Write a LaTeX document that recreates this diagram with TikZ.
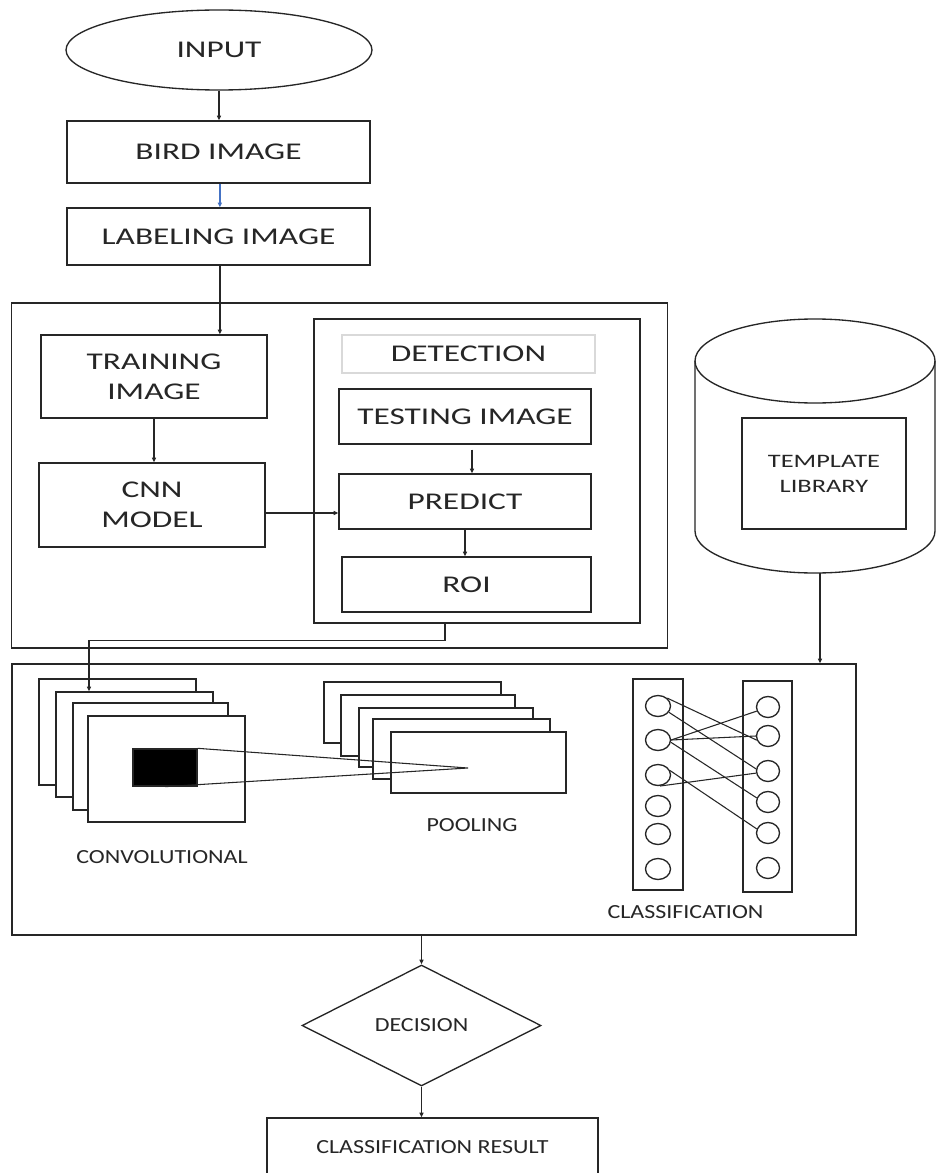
\documentclass[tikz,border=0pt]{standalone}
\usepackage{fontspec}
\setmainfont{Carlito}
\newfontfamily\mainf[FakeStretch=1.39]{Carlito}
\newfontfamily\smallf[FakeStretch=1.2]{Carlito}
\usetikzlibrary{shapes.geometric,arrows.meta}
\definecolor{ink}{HTML}{262626}
\definecolor{arrblue}{HTML}{4472C4}
\begin{document}
\begin{tikzpicture}[x=0.75pt,y=0.75pt,
  color=ink, line width=1pt,
  wh/.style 2 args={minimum width=#1*0.75pt, minimum height=#2*0.75pt},
  box/.style={draw, rectangle, inner sep=0pt, align=center,
    font=\mainf\fontsize{18}{22.5}\selectfont},
  smalltxt/.style={font=\smallf\fontsize{15}{18}\selectfont},
  lbl/.style={inner sep=0pt, smalltxt},
  sheet/.style={draw, rectangle, fill=white, inner sep=0pt},
  neuron/.style={draw, ellipse, inner sep=0pt},
  arr/.style={-{Triangle[length=3.5pt,width=3pt]}},
  thin line/.style={line width=0.8pt}
]
\useasboundingbox (0,0) rectangle (936,-1173);
\fill[white] (0,0) rectangle (936,-1173);
\clip (0,0) rectangle (936,-1173);

% top flow
\node[box, ellipse, wh={306}{80}] (in) at (219,-50) {INPUT};
\node[box, wh={303}{62}] (bird) at (218.5,-152) {BIRD IMAGE};
\node[box, wh={303}{57}] (lab) at (218.5,-236.5) {LABELING IMAGE};

% group 1
\node[box, wh={656}{345}] (grp1) at (339.5,-475.5) {};
\node[box, wh={226}{83}] (train) at (154,-376.5) {TRAINING\\IMAGE};
\node[box, wh={226}{84}] (cnn) at (152,-505) {CNN\\MODEL};
\node[box, wh={326}{304}] (det) at (477,-471) {};
\node[box, draw=black!15, wh={253}{38}] (dett) at (468.5,-354) {DETECTION};
\node[box, wh={252}{55}] (test) at (465,-416.5) {TESTING IMAGE};
\node[box, wh={252}{55}] (pred) at (465,-501.5) {PREDICT};
\node[box, wh={249}{55}] (roi) at (466.5,-584.5) {ROI};

% template library cylinder
\draw (695,-361) -- (695,-531) arc[start angle=180,end angle=360,x radius=90pt,y radius=31.5pt] -- (935,-361);
\draw (815,-361) ellipse[x radius=90pt, y radius=31.5pt];
\node[box, wh={164}{111}, font=\mainf\fontsize{14.25}{18.75}\selectfont] (tpl) at (824,-473.5) {TEMPLATE\\LIBRARY};
\coordinate (cylb) at (820,-573);

% group 2
\node[box, wh={844}{271}] (grp2) at (434,-799.5) {};

% convolutional sheets
\node[sheet, wh={157}{106}] (c1) at (117.5,-732) {};
\node[sheet, wh={157}{105}] (c2) at (134.5,-744.5) {};
\node[sheet, wh={155}{107}] (c3) at (150.5,-756.5) {};
\node[sheet, wh={157}{106}] (c4) at (166.5,-769) {};
\node[draw, fill=black, inner sep=0pt, wh={64}{37}] (kern) at (165,-767.5) {};

% pooling sheets
\node[sheet, wh={177}{61}] (p1) at (412.5,-712.5) {};
\node[sheet, wh={174}{61}] (p2) at (428,-725.5) {};
\node[sheet, wh={174}{59}] (p3) at (446,-737.5) {};
\node[sheet, wh={177}{60}] (p4) at (461.5,-749) {};
\node[sheet, wh={175}{61}] (p5) at (478.5,-762.5) {};
\coordinate (apex) at (468,-768);
\draw[thin line] (kern.north east) -- (apex) -- (kern.south);

\node[lbl] (convl) at (162,-857) {CONVOLUTIONAL};
\node[lbl] (pooll) at (472,-825) {POOLING};

% classification network
\node[sheet, wh={50}{211}] (colL) at (658,-784.5) {};
\node[sheet, wh={49}{211}] (colR) at (767.5,-786.5) {};
\foreach \i/\y in {1/706,2/740,3/775,4/806,5/834,6/869}
  \node[neuron, wh={25}{21}] (l\i) at (658,-\y) {};
\foreach \i/\y in {1/707,2/736,3/771,4/802,5/833,6/868}
  \node[neuron, wh={23}{21}] (r\i) at (768,-\y) {};
\draw[thin line] (l1.40) -- (r2.200);
\draw[thin line] (l1.-30) -- (r3.170);
\draw[thin line] (l2.0) -- (r1.200);
\draw[thin line] (l2.0) -- (r2.180);
\draw[thin line] (l2.-10) -- (r4.160);
\draw[thin line] (l3.-80) -- (r3.190);
\draw[thin line] (l3.20) -- (r5.160);
\node[lbl] (classl) at (685.5,-912) {CLASSIFICATION};

% bottom
\node[box, diamond, wh={239}{121}, smalltxt] (dec) at (421.5,-1025.5) {DECISION};
\node[box, wh={331}{58}, smalltxt] (res) at (432.5,-1147) {CLASSIFICATION RESULT};

% helper columns
\coordinate (x445) at (445,0);
\coordinate (x89) at (89,0);

% connectors
\draw[arr] (in.south) -- (in.south |- bird.north);
\draw[arr, arrblue] ([xshift=1pt]bird.south) -- ([xshift=1pt]bird.south |- lab.north);
\draw[arr] ([xshift=1pt]lab.south) -- ([xshift=1pt]lab.south |- train.north);
\draw[arr] (train.south) -- (train.south |- cnn.north);
\draw[arr] ([yshift=-6pt]cnn.east) -- ([yshift=-6pt]cnn.east -| pred.west);
\draw[arr] ([xshift=5.25pt,yshift=-3.75pt]test.south) -- ([xshift=5.25pt]test.south |- pred.north);
\draw[arr] (pred.south) -- (pred.south |- roi.north);
\draw[arr] (det.south -| x445) -- ++(0,-17) -| (c2.north -| x89);
\draw[arr] (cylb) -- (cylb |- grp2.north);
\draw[arr] (dec.north |- grp2.south) -- (dec.north);
\draw[arr] (dec.south) -- (dec.south |- res.north);
\end{tikzpicture}
\end{document}
